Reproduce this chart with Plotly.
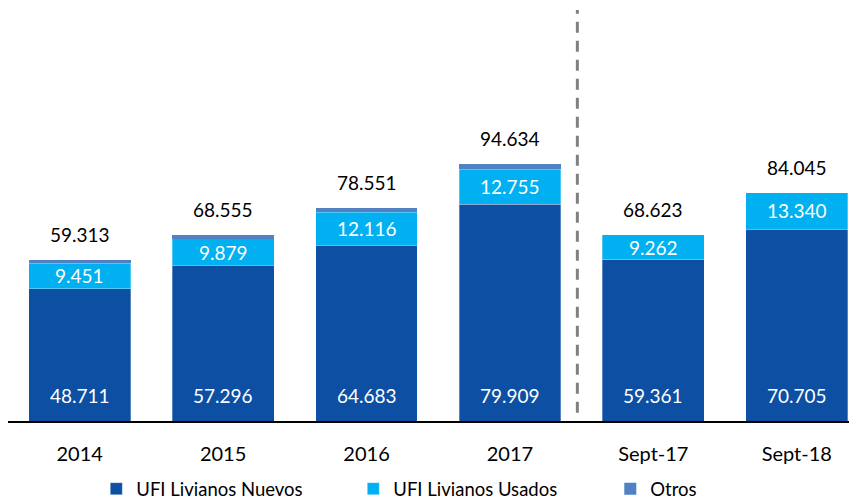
import plotly.graph_objects as go

categories = ["2014", "2015", "2016", "2017", "Sept-17", "Sept-18"]
nuevos = [48.711, 57.296, 64.683, 79.909, 59.361, 70.705]
usados = [9.451, 9.879, 12.116, 12.755, 9.262, 13.340]
otros = [1.151, 1.380, 1.752, 1.970, 0.0, 0.0]
totales = [59.313, 68.555, 78.551, 94.634, 68.623, 84.045]

FONT = "Lato"
c_nuevos = "#0C4FA3"
c_usados = "#00B0F0"
c_otros = "#4F81C3"

def fmt(v):
    return f"{v:.3f}"

fig = go.Figure()
fig.add_trace(go.Bar(x=categories, y=nuevos, name="UFI Livianos Nuevos",
                     marker=dict(color=c_nuevos, line=dict(width=0.6, color="rgba(255,255,255,0.5)"))))
fig.add_trace(go.Bar(x=categories, y=usados, name="UFI Livianos Usados",
                     marker=dict(color=c_usados, line=dict(width=0.6, color="rgba(255,255,255,0.5)"))))
fig.add_trace(go.Bar(x=categories, y=otros, name="Otros",
                     marker=dict(color=c_otros, line=dict(width=0))))

# labels (x given as category index so "2014" is not read as a number)
for i in range(len(categories)):
    fig.add_annotation(x=i, y=0, text=fmt(nuevos[i]), showarrow=False,
                       yanchor="bottom", yshift=12,
                       font=dict(family=FONT, size=19, color="white"))
    fig.add_annotation(x=i, y=nuevos[i] + usados[i] / 2, text=fmt(usados[i]),
                       showarrow=False, yanchor="middle",
                       font=dict(family=FONT, size=19, color="white"))
    fig.add_annotation(x=i, y=totales[i], text=fmt(totales[i]), showarrow=False,
                       yanchor="bottom", yshift=12,
                       font=dict(family=FONT, size=19, color="black"))

# separator between annual and YTD figures
fig.add_shape(type="line", xref="x", yref="paper", x0=3.47, x1=3.47, y0=0.02, y1=0.995,
              line=dict(color="#808080", width=3, dash="11px,8px"))

# page body adds an 8px margin, so the figure is 8px smaller than the window
fig.update_layout(
    barmode="stack",
    bargap=0.29,
    width=849, height=494,
    margin=dict(l=0, r=0, t=0, b=81, autoexpand=False),
    plot_bgcolor="white", paper_bgcolor="white",
    font=dict(family=FONT, size=20, color="black"),
    showlegend=True,
    legend=dict(orientation="h", x=0.104, xanchor="left", y=-0.165, yanchor="middle",
                traceorder="normal", entrywidth=212, entrywidthmode="pixels",
                font=dict(family=FONT, size=18.5, color="black"),
                itemclick=False, itemwidth=30),
)
fig.update_xaxes(type="category", range=[-0.5, 5.42], showline=True, linecolor="black",
                 linewidth=2, ticks="", showgrid=False, ticklabelstandoff=14,
                 tickfont=dict(family=FONT, size=20, color="black"))
fig.update_yaxes(range=[0, 152.1], visible=False, showgrid=False)

fig.write_html("out.html")
